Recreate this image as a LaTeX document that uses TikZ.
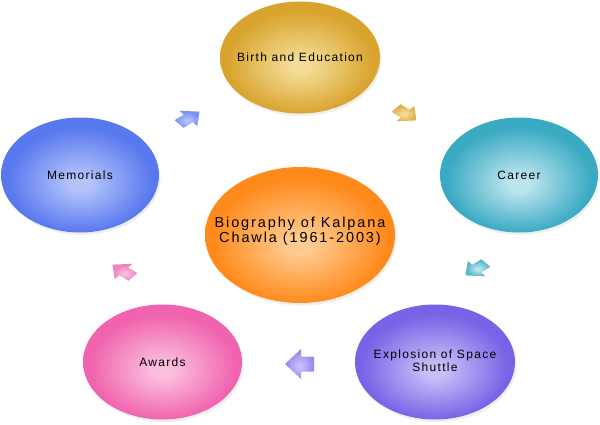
\documentclass[tikz,border=0pt]{standalone}
\usepackage{fontspec}
\setmainfont{Liberation Sans}
\newfontfamily\lblfont{Liberation Sans}[LetterSpace=11]
\newfontfamily\cenfont{Liberation Sans}[LetterSpace=13]
\usetikzlibrary{shapes.geometric,shadows}
\colorlet{icol}{white}
\colorlet{ocol}{black}
\definecolor{goldI}{HTML}{F4DC96}
\definecolor{goldO}{HTML}{D8A42E}
\definecolor{tealI}{HTML}{BDE5EF}
\definecolor{tealO}{HTML}{3AAAC3}
\definecolor{purI}{HTML}{C9BEF7}
\definecolor{purO}{HTML}{7A62E6}
\definecolor{pinkI}{HTML}{FBBFDE}
\definecolor{pinkO}{HTML}{F063AE}
\definecolor{bluI}{HTML}{B4C4FB}
\definecolor{bluO}{HTML}{5878EE}
\definecolor{oraI}{HTML}{FFCB90}
\definecolor{oraO}{HTML}{FF8A1C}
\pgfdeclareradialshading[icol,ocol]{softrad}{\pgfpoint{0bp}{-4bp}}{color(0bp)=(icol); color(3bp)=(icol); color(23bp)=(ocol); color(50bp)=(ocol)}
\begin{document}
\begin{tikzpicture}[x=1pt,y=-1pt,
  bub/.style n args={4}{ellipse, inner sep=0pt, minimum width=#1, minimum height=#2,
    /utils/exec={\colorlet{icol}{#3}\colorlet{ocol}{#4}}, shading=softrad,
    drop shadow={shadow xshift=1.5pt, shadow yshift=-2.5pt, opacity=0.12}},
  lbl/.style={font=\lblfont\fontsize{12pt}{13pt}\selectfont, align=center, inner sep=0pt},
  cen/.style={font=\cenfont\fontsize{14.5pt}{15pt}\selectfont, align=center, inner sep=0pt},
  arrin/.initial=white,
  arrout/.initial=black,
  cyc/.pic={
    \path[pic actions, /utils/exec={\colorlet{icol}{\pgfkeysvalueof{/tikz/arrin}}\colorlet{ocol}{\pgfkeysvalueof{/tikz/arrout}}}, shading=softrad]
      (-14,-7.5) -- (-1,-7.5) -- (-1,-15) -- (15,0) -- (-1,15) -- (-1,7.5) -- (-14,7.5) -- cycle;
  },
  tilt/.style={scale=0.92, yscale=0.72, rotate=#1}
]
\useasboundingbox (0,0) rectangle (600,424);
\fill[white] (0,0) rectangle (600,424);

\node[bub={160pt}{112pt}{goldI}{goldO}] (birth) at (300,57.5) {};
\node[bub={158pt}{115pt}{tealI}{tealO}] (career) at (519,175) {};
\node[bub={160pt}{115pt}{purI}{purO}] (expl) at (435,362) {};
\node[bub={159pt}{115pt}{pinkI}{pinkO}] (awards) at (162.5,362) {};
\node[bub={158pt}{115pt}{bluI}{bluO}] (mem) at (80,175) {};
\node[bub={190pt}{136pt}{oraI}{oraO}] (bio) at (300,235) {};

\node[lbl] (tbirth) at (birth.center) {Birth and Education};
\node[lbl] (tcareer) at (career.center) {Career};
\node[lbl] (texpl) at ([yshift=1pt]expl.center) {Explosion of Space\\Shuttle};
\node[lbl] (tawards) at (awards.center) {Awards};
\node[lbl] (tmem) at (mem.center) {Memorials};
\node[cen] (tbio) at ([yshift=4pt]bio.center) {Biography of Kalpana\\Chawla (1961-2003)};

\pic[arrin=bluI, arrout=bluO!80!white, tilt=40] (a1) at (189,118) {cyc};
\pic[arrin=goldI, arrout=goldO!85!white, tilt=-40] (a2) at (406,114) {cyc};
\pic[arrin=tealI, arrout=tealO!85!white, tilt=-140] (a3) at (476,269) {cyc};
\pic[arrin=purI, arrout=purO!75!white, rotate=180] (a4) at (300,364) {cyc};
\pic[arrin=pinkI, arrout=pinkO!80!white, tilt=140] (a5) at (123,271) {cyc};
\end{tikzpicture}
\end{document}
